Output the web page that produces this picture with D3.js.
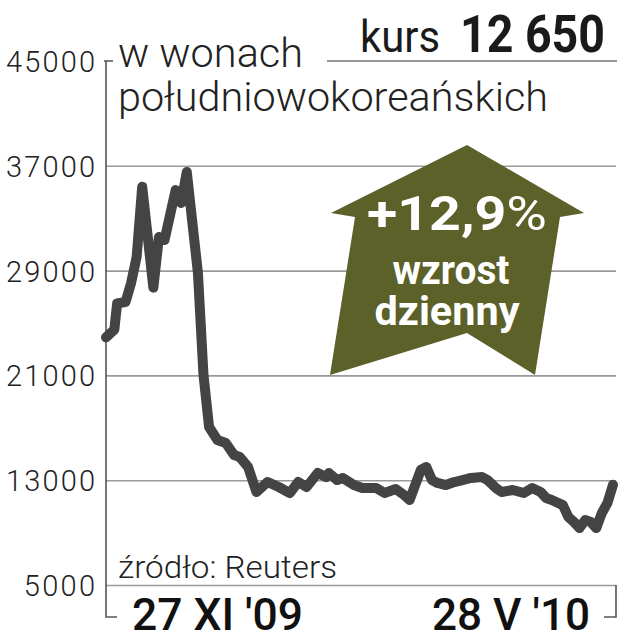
<!DOCTYPE html>
<html>
<head>
<meta charset="utf-8">
<script src="https://cdn.jsdelivr.net/npm/d3@7"></script>
<style>
  html, body { margin: 0; padding: 0; background: #fff; }
  svg { display: block; }
</style>
</head>
<body>
<svg id="chart" width="619" height="640"></svg>
<script>
// Days since 27 XI 2009 and exchange rate (KRW)
const days = [0, 3, 4, 7, 9, 11, 13, 17, 19, 21, 25, 27, 29, 33, 35, 37, 40, 43, 46, 48, 51, 54, 58, 62, 66, 69, 72, 76, 79, 80, 83, 85, 89, 92, 97, 100, 104, 107, 109, 111, 113, 115, 117, 119, 122, 125, 128, 131, 135, 137, 140, 142, 146, 150, 153, 156, 158, 160, 164, 166, 168, 170, 172, 174, 176, 178, 180, 182];
const kurs = [23900, 24500, 26500, 26600, 28050, 30040, 35400, 27700, 31560, 31330, 35150, 34160, 36530, 28820, 21030, 17060, 16070, 15840, 14920, 14770, 14010, 12100, 12860, 12480, 12020, 12860, 12480, 13550, 13240, 13550, 13010, 13170, 12630, 12400, 12400, 12020, 12330, 11870, 11490, 12630, 13780, 14010, 13010, 12790, 12630, 12860, 13010, 13170, 13240, 13010, 12400, 12100, 12250, 12020, 12400, 12100, 11640, 11490, 11100, 10190, 9810, 9350, 9960, 9810, 9350, 10500, 11260, 12650];
const yTicks = [5000, 13000, 21000, 29000, 37000, 45000];
const gridTicks = [5000, 13000, 21000, 29000, 37000];
const xLabels = ["27 XI '09", "28 V '10"];
const titleLines = ["w wonach", "południowokoreańskich"];
const kursLabel = "kurs";
const kursValue = "12 650";
const badgeLines = ["+12,9", "%", "wzrost", "dzienny"];
const sourceText = "źródło: Reuters";

const svg = d3.select("#chart");
const x = d3.scaleLinear().domain([0, 182]).range([106, 613]);
const y = d3.scaleLinear().domain([5000, 45000]).range([585, 61]);

const font = "Roboto, 'Liberation Sans', sans-serif";

// grid lines
const grid = svg.append("g").attr("transform", "translate(106,0)")
  .call(d3.axisLeft(y).tickValues(gridTicks).tickSize(-510).tickFormat(""));
grid.select(".domain").remove();
grid.selectAll(".tick line").attr("stroke", "#9a9a9a").attr("stroke-width", 1.6);

// y axis labels
const yAxis = svg.append("g").attr("transform", "translate(106,0)")
  .call(d3.axisLeft(y).tickValues(yTicks).tickSize(0).tickPadding(11).tickFormat(d3.format("d")));
yAxis.select(".domain").remove();
yAxis.selectAll(".tick text")
  .attr("font-family", font).attr("font-weight", 300).attr("font-size", 29)
  .attr("fill", "#222").attr("dy", "0.36em")
  .attr("textLength", d => String(d).length * 17.8)
  .attr("lengthAdjust", "spacing");

// axis bracket lines
const axisColor = "#555";
svg.append("path")
  .attr("d", `M104,${y(45000)} H113 M106,${y(45000)} V617 H117`)
  .attr("fill", "none").attr("stroke", axisColor).attr("stroke-width", 1.6);
svg.append("path")
  .attr("d", `M604,617 H616 V${y(5000)}`)
  .attr("fill", "none").attr("stroke", axisColor).attr("stroke-width", 1.6);

// badge arrow
const arrow = svg.append("g");
arrow.append("path")
  .attr("d", "M467,145 L584,213 L560,217 L535,375 L467,333 L330,375 L355,217 L331,213 Z")
  .attr("fill", "#5b6128");
const bt = arrow.append("text")
  .attr("x", 367).attr("y", 230)
  .attr("font-family", font).attr("font-size", 48).attr("fill", "#fff");
bt.append("tspan").attr("font-weight", 700).text(badgeLines[0]);
bt.append("tspan").attr("font-weight", 400).text(badgeLines[1]);
bt.attr("textLength", 180).attr("lengthAdjust", "spacingAndGlyphs");
arrow.append("text")
  .attr("x", 451).attr("y", 284).attr("text-anchor", "middle")
  .attr("font-family", font).attr("font-weight", 700).attr("font-size", 40).attr("fill", "#fff")
  .attr("textLength", 117).attr("lengthAdjust", "spacingAndGlyphs")
  .text(badgeLines[2]);
arrow.append("text")
  .attr("x", 447).attr("y", 325).attr("text-anchor", "middle")
  .attr("font-family", font).attr("font-weight", 700).attr("font-size", 40).attr("fill", "#fff")
  .attr("textLength", 145).attr("lengthAdjust", "spacingAndGlyphs")
  .text(badgeLines[3]);

// data line
const data = days.map((d, i) => ({ d, v: kurs[i] }));
svg.append("path")
  .datum(data)
  .attr("fill", "none")
  .attr("stroke", "#444")
  .attr("stroke-width", 10)
  .attr("stroke-linejoin", "round")
  .attr("stroke-linecap", "round")
  .attr("d", d3.line().x(p => x(p.d)).y(p => y(p.v)));

// title
svg.append("text").attr("x", 118).attr("y", 67)
  .attr("font-family", font).attr("font-weight", 300).attr("font-size", 41).attr("fill", "#222")
  .attr("textLength", 185).attr("lengthAdjust", "spacingAndGlyphs")
  .text(titleLines[0]);
svg.append("text").attr("x", 118).attr("y", 111)
  .attr("font-family", font).attr("font-weight", 300).attr("font-size", 41).attr("fill", "#222")
  .attr("textLength", 430).attr("lengthAdjust", "spacingAndGlyphs")
  .text(titleLines[1]);

// kurs
svg.append("text").attr("x", 360).attr("y", 52)
  .attr("font-family", font).attr("font-weight", 400).attr("font-size", 45).attr("fill", "#1a1a1a")
  .attr("textLength", 80).attr("lengthAdjust", "spacingAndGlyphs")
  .text(kursLabel);
svg.append("text").attr("x", 460).attr("y", 52)
  .attr("font-family", font).attr("font-weight", 700).attr("font-size", 52).attr("fill", "#1a1a1a")
  .attr("textLength", 145).attr("lengthAdjust", "spacingAndGlyphs")
  .text(kursValue);
svg.append("line").attr("x1", 327).attr("x2", 617).attr("y1", 61).attr("y2", 61)
  .attr("stroke", "#999").attr("stroke-width", 2);

// source
svg.append("text").attr("x", 118).attr("y", 578)
  .attr("font-family", font).attr("font-weight", 300).attr("font-size", 32).attr("fill", "#222")
  .attr("textLength", 219).attr("lengthAdjust", "spacingAndGlyphs")
  .text(sourceText);

// x labels
svg.append("text").attr("x", 132).attr("y", 630)
  .attr("font-family", font).attr("font-weight", 500).attr("font-size", 45).attr("fill", "#111")
  .attr("textLength", 171).attr("lengthAdjust", "spacingAndGlyphs")
  .text(xLabels[0]);
svg.append("text").attr("x", 432).attr("y", 630)
  .attr("font-family", font).attr("font-weight", 500).attr("font-size", 45).attr("fill", "#111")
  .attr("textLength", 158).attr("lengthAdjust", "spacingAndGlyphs")
  .text(xLabels[1]);
</script>
</body>
</html>
